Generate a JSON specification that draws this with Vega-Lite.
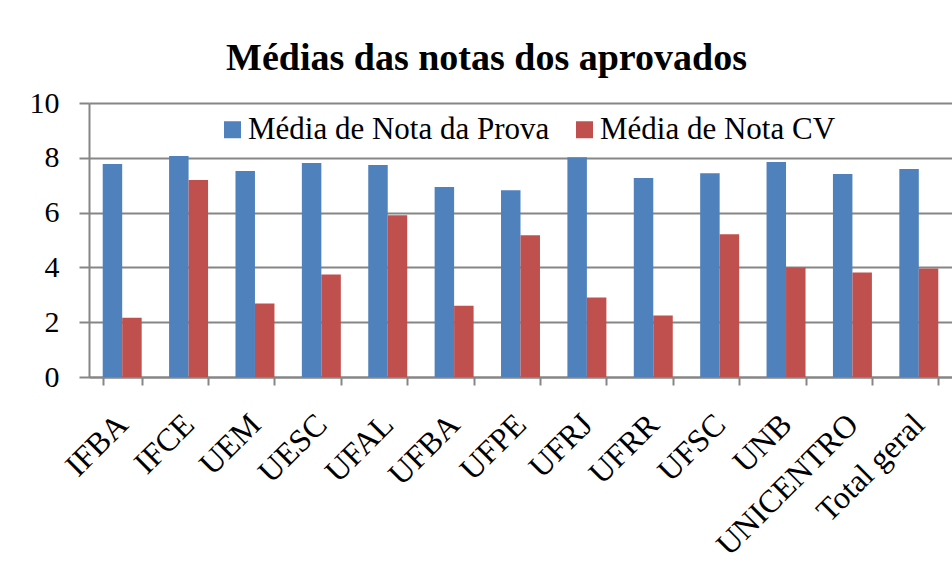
{
  "$schema": "https://vega.github.io/schema/vega-lite/v6.json",
  "autosize": {"type": "none"},
  "padding": {"left": 89, "top": 103, "right": 0, "bottom": 204},
  "width": 863,
  "height": 274,
  "background": "white",
  "title": {
    "text": "Médias das notas dos aprovados",
    "font": "Liberation Serif",
    "fontSize": 38,
    "fontWeight": "bold",
    "color": "black",
    "anchor": "middle",
    "dx": -34,
    "offset": 10
  },
  "data": {
    "values": [
      {"inst": "IFBA", "serie": "Média de Nota da Prova", "valor": 7.77},
      {"inst": "IFBA", "serie": "Média de Nota CV", "valor": 2.16},
      {"inst": "IFCE", "serie": "Média de Nota da Prova", "valor": 8.07},
      {"inst": "IFCE", "serie": "Média de Nota CV", "valor": 7.19},
      {"inst": "UEM", "serie": "Média de Nota da Prova", "valor": 7.52},
      {"inst": "UEM", "serie": "Média de Nota CV", "valor": 2.68},
      {"inst": "UESC", "serie": "Média de Nota da Prova", "valor": 7.81},
      {"inst": "UESC", "serie": "Média de Nota CV", "valor": 3.74},
      {"inst": "UFAL", "serie": "Média de Nota da Prova", "valor": 7.74},
      {"inst": "UFAL", "serie": "Média de Nota CV", "valor": 5.9},
      {"inst": "UFBA", "serie": "Média de Nota da Prova", "valor": 6.93},
      {"inst": "UFBA", "serie": "Média de Nota CV", "valor": 2.6},
      {"inst": "UFPE", "serie": "Média de Nota da Prova", "valor": 6.82},
      {"inst": "UFPE", "serie": "Média de Nota CV", "valor": 5.17},
      {"inst": "UFRJ", "serie": "Média de Nota da Prova", "valor": 8.02},
      {"inst": "UFRJ", "serie": "Média de Nota CV", "valor": 2.9},
      {"inst": "UFRR", "serie": "Média de Nota da Prova", "valor": 7.26},
      {"inst": "UFRR", "serie": "Média de Nota CV", "valor": 2.24},
      {"inst": "UFSC", "serie": "Média de Nota da Prova", "valor": 7.44},
      {"inst": "UFSC", "serie": "Média de Nota CV", "valor": 5.21},
      {"inst": "UNB", "serie": "Média de Nota da Prova", "valor": 7.85},
      {"inst": "UNB", "serie": "Média de Nota CV", "valor": 4.0},
      {"inst": "UNICENTRO", "serie": "Média de Nota da Prova", "valor": 7.41},
      {"inst": "UNICENTRO", "serie": "Média de Nota CV", "valor": 3.81},
      {"inst": "Total geral", "serie": "Média de Nota da Prova", "valor": 7.59},
      {"inst": "Total geral", "serie": "Média de Nota CV", "valor": 3.96}
    ]
  },
  "mark": {"type": "bar"},
  "encoding": {
    "x": {
      "field": "inst",
      "type": "nominal",
      "sort": null,
      "title": null,
      "scale": {"paddingInner": 0.413, "paddingOuter": 0.2065},
      "axis": {
        "tickBand": "extent",
        "labelAngle": -45,
        "labelAlign": "right",
        "labelBaseline": "middle",
        "labelFont": "Liberation Serif",
        "labelFontSize": 32,
        "labelColor": "black",
        "labelPadding": 34,
        "labelOverlap": false,
        "labelLimit": 0,
        "domainColor": "#868686",
        "domainWidth": 2,
        "tickColor": "#868686",
        "tickWidth": 2,
        "tickSize": 8,
        "grid": false
      }
    },
    "xOffset": {
      "field": "serie",
      "sort": ["Média de Nota da Prova", "Média de Nota CV"],
      "scale": {"paddingInner": 0, "paddingOuter": 0}
    },
    "y": {
      "field": "valor",
      "type": "quantitative",
      "title": null,
      "scale": {"domain": [0, 10], "nice": false},
      "axis": {
        "values": [0, 2, 4, 6, 8, 10],
        "labelFont": "Liberation Serif",
        "labelFontSize": 30,
        "labelColor": "black",
        "labelPadding": 20,
        "domainColor": "#868686",
        "domainWidth": 2,
        "tickColor": "#868686",
        "tickWidth": 2,
        "tickSize": 10,
        "grid": true,
        "gridColor": "#868686",
        "gridWidth": 2
      }
    },
    "color": {
      "field": "serie",
      "type": "nominal",
      "title": null,
      "scale": {
        "domain": ["Média de Nota da Prova", "Média de Nota CV"],
        "range": ["#4F81BD", "#C0504D"]
      },
      "legend": {
        "orient": "none",
        "direction": "horizontal",
        "legendX": 128,
        "legendY": 11,
        "padding": 0,
        "fillColor": "white",
        "symbolType": "square",
        "symbolSize": 289,
        "symbolStrokeWidth": 0,
        "symbolOpacity": 1,
        "labelFont": "Liberation Serif",
        "labelFontSize": 31,
        "labelColor": "black",
        "labelOffset": 0,
        "labelLimit": 0,
        "columnPadding": 19
      }
    }
  },
  "config": {
    "font": "Liberation Serif",
    "view": {"stroke": null},
    "axis": {"labelFont": "Liberation Serif"},
    "legend": {"labelFont": "Liberation Serif"}
  }
}
